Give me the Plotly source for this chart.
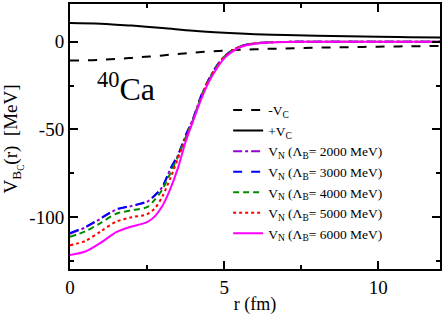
import plotly.graph_objects as go

# radial grid (fm)
r = [0, 0.5, 1.0, 1.5, 2.0, 2.5, 2.75, 3.0, 3.25, 3.5, 3.75, 4.0, 4.25, 4.5, 4.75,
     5.0, 5.25, 5.5, 5.75, 6.0, 6.5, 7.0, 8.0, 9.0, 10.0, 11.0, 12.0]

# Coulomb potential (MeV)
r_c = [0, 1, 2, 3, 4, 5, 6, 7, 8, 9, 10, 11, 12]
vc_plus = [10.7, 10.3, 9.2, 7.8, 6.2, 5.1, 4.3, 3.8, 3.4, 3.1, 2.8, 2.6, 2.4]
vc_minus = [-v for v in vc_plus]

# nuclear potentials (MeV)
vn_2000 = [-109.5, -105.8, -100.8, -95.7, -93.6, -91.2, -87.6, -82.6, -72.8, -64.8, -53.5, -43.5, -31.0,
           -21.5, -14.0, -8.5, -5.0, -2.8, -1.6, -0.9, -0.3, -0.1, 0, 0, 0, 0, 0]
vn_3000 = [-109.0, -105.5, -100.5, -95.5, -93.5, -91.0, -87.5, -82.5, -72.5, -64.5, -53.5, -43.5, -31.0,
           -21.5, -14.0, -8.5, -5.0, -2.8, -1.6, -0.9, -0.3, -0.1, 0, 0, 0, 0, 0]
vn_4000 = [-111.2, -108.0, -103.2, -98.0, -96.0, -94.3, -90.0, -84.0, -75.0, -65.5, -54.5, -44.0, -31.3,
           -21.7, -14.2, -8.6, -5.1, -2.8, -1.6, -0.9, -0.3, -0.1, 0, 0, 0, 0, 0]
vn_5000 = [-116.0, -113.5, -108.0, -102.5, -100.0, -98.3, -95.0, -88.0, -78.0, -66.5, -55.5, -44.3, -31.8,
           -22.0, -14.5, -8.8, -5.2, -2.9, -1.7, -0.9, -0.3, -0.1, 0, 0, 0, 0, 0]
vn_6000 = [-121.5, -119.5, -114.5, -108.5, -105.3, -102.8, -99.5, -93.5, -84.0, -72.0, -57.0, -44.8, -33.0,
           -23.0, -15.5, -9.5, -5.8, -3.3, -1.9, -1.1, -0.4, -0.1, 0, 0, 0, 0, 0]

FONT = "Liberation Serif"

fig = go.Figure()
fig.add_trace(go.Scatter(x=r_c, y=vc_minus, mode="lines", name="-V<sub>C</sub>",
                         line=dict(color="black", width=2, dash="dash", shape="spline")))
fig.add_trace(go.Scatter(x=r_c, y=vc_plus, mode="lines", name="+V<sub>C</sub>",
                         line=dict(color="black", width=2, shape="spline")))
series = [
    (vn_2000, "2000", "#9400D3", "dashdot"),
    (vn_3000, "3000", "#0000FF", "dash"),
    (vn_4000, "4000", "#008B00", "6px,4px"),
    (vn_5000, "5000", "#FF0000", "dot"),
    (vn_6000, "6000", "#FF00FF", "solid"),
]
for vals, lam, col, dash in series:
    fig.add_trace(go.Scatter(x=r, y=vals, mode="lines",
                             name="V<sub>N</sub> (Λ<sub>B</sub>= %s MeV)" % lam,
                             line=dict(color=col, width=2, dash=dash, shape="spline", smoothing=0.8)))

axis_common = dict(showline=True, linecolor="black", linewidth=2, mirror="ticks",
                   ticks="inside", ticklen=8, tickwidth=2, tickcolor="black",
                   showgrid=False, zeroline=False,
                   tickfont=dict(family=FONT, size=19, color="black"))

fig.update_xaxes(range=[0, 12], tickvals=[0, 5, 10], ticktext=["0", "5", "10"],
                 minor=dict(ticks="inside", tickvals=[2.5, 7.5], ticklen=4, tickwidth=2, tickcolor="black"),
                 title=dict(text="r (fm)", font=dict(family=FONT, size=18, color="black"), standoff=3),
                 **axis_common)
fig.update_yaxes(range=[-129.5, 21.5], tickvals=[-100, -50, 0], ticktext=["-100", "-50", "0"],
                 minor=dict(ticks="inside", tickvals=[-125, -75, -25], ticklen=4, tickwidth=2, tickcolor="black"),
                 **axis_common)

fig.add_annotation(text="V<sub>B<sub>C</sub></sub>(r)  [MeV]", textangle=-90,
                   xref="paper", yref="paper", x=(13 - 70) / 372, y=0.49,
                   xanchor="center", yanchor="middle", showarrow=False,
                   font=dict(family=FONT, size=19, color="black"))
fig.add_annotation(text="<sup>40</sup>Ca", xref="x", yref="y", x=0.8, y=-26,
                   xanchor="left", yanchor="middle", showarrow=False,
                   font=dict(family=FONT, size=32, color="black"))

fig.update_layout(
    width=444, height=315,
    margin=dict(l=70, r=2, t=2, b=40),
    paper_bgcolor="white", plot_bgcolor="white",
    showlegend=True,
    legend=dict(x=(229 - 70) / 372, y=1 - (95.5 - 2) / 273, xanchor="left", yanchor="top",
                bgcolor="rgba(0,0,0,0)", borderwidth=0, itemwidth=30,
                font=dict(family=FONT, size=13.5, color="black"), tracegroupgap=0),
)

fig.write_html("out.html", config={"displayModeBar": False},
               post_script="document.body.style.margin='0';document.body.style.padding='0';document.body.style.overflow='hidden';")
